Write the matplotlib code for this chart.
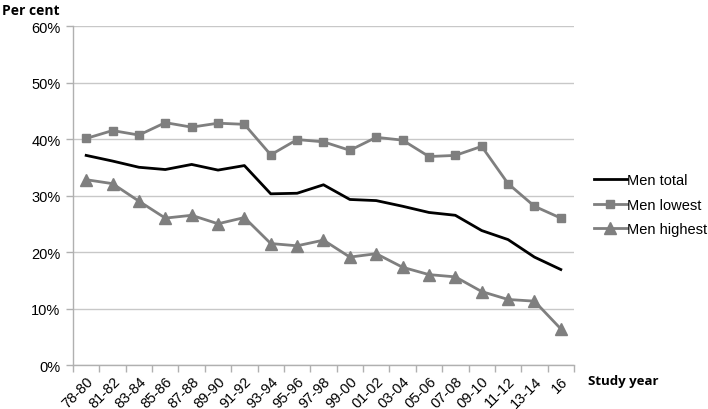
import matplotlib.pyplot as plt
import numpy as np
from matplotlib.ticker import FixedLocator, FuncFormatter

plt.rcParams['font.family'] = ['Liberation Sans', 'DejaVu Sans']

years = ["78-80", "81-82", "83-84", "85-86", "87-88", "89-90", "91-92", "93-94",
         "95-96", "97-98", "99-00", "01-02", "03-04", "05-06", "07-08", "09-10",
         "11-12", "13-14", "16"]
men_total = [37.1, 36.1, 35.0, 34.6, 35.5, 34.5, 35.3, 30.3, 30.4, 31.9, 29.3,
             29.1, 28.1, 27.0, 26.5, 23.8, 22.2, 19.1, 16.9]
men_lowest = [40.1, 41.5, 40.7, 42.9, 42.1, 42.8, 42.6, 37.2, 39.9, 39.5, 38.0,
              40.3, 39.8, 36.9, 37.1, 38.7, 32.1, 28.1, 26.0]
men_highest = [32.8, 32.1, 29.0, 26.0, 26.5, 25.0, 26.1, 21.5, 21.1, 22.1, 19.1,
               19.7, 17.3, 16.0, 15.6, 13.0, 11.6, 11.3, 6.4]

fig = plt.figure(figsize=(7.08, 4.10), dpi=100)
ax = fig.add_axes([0.1031, 0.1073, 0.7076, 0.8268])

x = np.arange(len(years))
gray = '#7f7f7f'
ax.plot(x, men_total, color='black', lw=2.0, label='Men total', zorder=3)
ax.plot(x, men_lowest, color=gray, lw=2.0, marker='s', markersize=6,
        label='Men lowest', zorder=3)
ax.plot(x, men_highest, color=gray, lw=2.0, marker='^', markersize=8.5,
        label='Men highest', zorder=3)

ax.set_xlim(-0.5, len(years) - 0.5)
ax.set_ylim(0, 60)
ax.set_yticks(np.arange(0, 61, 10))
ax.yaxis.set_major_formatter(FuncFormatter(lambda v, p: f"{v:.0f}%"))
ax.grid(axis='y', color='#c8c8c8', lw=1)
ax.set_axisbelow(True)

ax.set_xticks(x)
ax.set_xticklabels(years, rotation=45, ha='right', rotation_mode='anchor')
ax.xaxis.set_minor_locator(FixedLocator(np.arange(-0.5, len(years), 1)))
ax.tick_params(axis='x', which='major', length=0, pad=6, labelsize=10.5)
ax.tick_params(axis='x', which='minor', length=5, color='#b0b0b0', width=1)
ax.tick_params(axis='y', length=5, color='#b0b0b0', width=1, labelsize=10.5, pad=4)

for s in ['top', 'right']:
    ax.spines[s].set_visible(False)
for s in ['left', 'bottom']:
    ax.spines[s].set_color('#b0b0b0')
    ax.spines[s].set_linewidth(1)

ax.legend(loc='center left', bbox_to_anchor=(1.013, 0.473), frameon=False,
          fontsize=10.5, handlelength=2.3, handletextpad=0.0, labelspacing=0.72)

fig.text(0.003, 0.972, "Per cent", fontsize=10, fontweight='bold',
         family=['Open Sans', 'DejaVu Sans'], va='center', ha='left')
fig.text(0.830, 0.070, "Study year", fontsize=9.5, fontweight='bold',
         family=['Open Sans', 'DejaVu Sans'], va='center', ha='left')

fig.savefig('out.png', dpi=100)
